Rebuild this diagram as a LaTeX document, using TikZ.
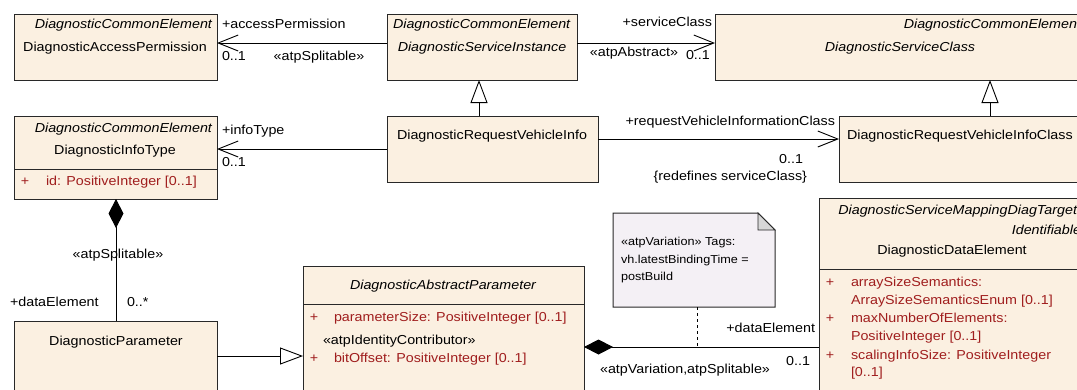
\documentclass[tikz,border=0pt]{standalone}
\usepackage{fontspec}
\setmainfont[FakeStretch=1.1]{Liberation Sans}
\usetikzlibrary{arrows.meta}
\definecolor{boxfill}{RGB}{251,240,225}
\definecolor{notefill}{RGB}{244,240,245}
\definecolor{foldfill}{RGB}{215,215,215}
\definecolor{attrred}{RGB}{160,30,30}
\definecolor{edgecol}{RGB}{40,40,40}
\tikzset{
  umlbox/.style={rectangle, draw=edgecol, fill=boxfill, line width=1pt, inner sep=0pt, outer sep=0pt, anchor=north west},
  lbl/.style={inner sep=0pt, outer sep=0pt, text=black},
  attr/.style={lbl, text=attrred},
  sepline/.style={draw=edgecol, line width=1pt},
  assoc/.style={draw=black, line width=0.9pt, -{Straight Barb[length=20pt,width=16pt]}},
  gen/.style={draw=black, line width=0.9pt, -{Triangle[length=23pt,width=17pt,fill=white]}},
  comp/.style={draw=black, line width=0.9pt, {Diamond[length=29pt,width=15pt]}-},
  notelink/.style={draw=black, line width=0.9pt, dash pattern=on 3pt off 3pt},
}
\begin{document}
\begin{tikzpicture}[x=1pt, y=-1pt, font=\fontsize{13}{15}\selectfont]
\useasboundingbox (0,0) rectangle (1077,389);
\clip (0,0) rectangle (1077,389);
\fill[white] (0,0) rectangle (1077,389);

% ---------- boxes ----------
\node[umlbox, minimum width=203pt, minimum height=66pt] (A) at (14,14) {};
\node[umlbox, minimum width=190pt, minimum height=66pt] (B) at (387,14) {};
\node[umlbox, minimum width=370pt, minimum height=66pt] (C) at (715,14) {};
\node[umlbox, minimum width=203pt, minimum height=83pt] (D) at (14,116) {};
\node[umlbox, minimum width=211pt, minimum height=66pt] (E) at (387,116) {};
\node[umlbox, minimum width=246pt, minimum height=66pt] (F) at (839,116) {};
\node[umlbox, minimum width=203pt, minimum height=100pt] (G) at (14,321) {};
\node[umlbox, minimum width=281pt, minimum height=150pt] (H) at (303,266) {};
\node[umlbox, minimum width=266pt, minimum height=220pt] (I) at (819,198) {};

% separators
\coordinate (sD) at (0,169);
\coordinate (sH) at (0,304);
\coordinate (sI) at (0,269);
\draw[sepline] (D.west |- sD) -- (D.east |- sD);
\draw[sepline] (H.west |- sH) -- (H.east |- sH);
\draw[sepline] (I.west |- sI) -- (I.east |- sI);

% ---------- note ----------
\filldraw[fill=notefill, draw=edgecol, line width=1pt]
  (613,213) -- (758,213) -- (775,230) -- (775,307) -- (613,307) -- cycle;
\filldraw[fill=foldfill, draw=edgecol, line width=0.8pt]
  (758,213) -- (758,230) -- (775,230) -- cycle;
\node[lbl, anchor=mid west, font=\fontsize{11.5}{12}\selectfont] (n1) at (621,243) {«atpVariation» Tags:};
\node[lbl, anchor=mid west, font=\fontsize{11.5}{12}\selectfont] (n2) at (621,261) {vh.latestBindingTime =};
\node[lbl, anchor=mid west, font=\fontsize{11.5}{12}\selectfont] (n3) at (621,278) {postBuild};

% ---------- box texts ----------
\node[lbl, anchor=mid east] (a1) at (212,26) {\itshape DiagnosticCommonElement};
\node[lbl, anchor=mid] (a2) at (115,49) {DiagnosticAccessPermission};

\node[lbl, anchor=mid west] (b1) at (393,26) {\itshape DiagnosticCommonElement};
\node[lbl, anchor=mid] (b2) at (482,49) {\itshape DiagnosticServiceInstance};

\node[lbl, anchor=mid east] (c1) at (1081,26) {\itshape DiagnosticCommonElement};
\node[lbl, anchor=mid] (c2) at (900,49) {\itshape DiagnosticServiceClass};

\node[lbl, anchor=mid east] (d1) at (212,130) {\itshape DiagnosticCommonElement};
\node[lbl, anchor=mid] (d2) at (115,152) {DiagnosticInfoType};
\node[attr, anchor=mid] (d3) at (25,183) {+};
\node[attr, anchor=mid west] (d4) at (46,183) {id: PositiveInteger [0..1]};

\node[lbl, anchor=mid] (e1) at (492,137) {DiagnosticRequestVehicleInfo};
\node[lbl, anchor=mid west] (f1) at (847,137) {DiagnosticRequestVehicleInfoClass};

\node[lbl, anchor=mid] (g1) at (116,343) {DiagnosticParameter};

\node[lbl, anchor=mid] (h1) at (443,287) {\itshape DiagnosticAbstractParameter};
\node[attr, anchor=mid] (h2) at (314,319) {+};
\node[attr, anchor=mid west] (h3) at (334,319) {parameterSize: PositiveInteger [0..1]};
\node[lbl, anchor=mid west] (h4) at (323,342) {«atpIdentityContributor»};
\node[attr, anchor=mid] (h5) at (314,360) {+};
\node[attr, anchor=mid west] (h6) at (334,360) {bitOffset: PositiveInteger [0..1]};

\node[lbl, anchor=mid east] (i1) at (1081,212) {\itshape DiagnosticServiceMappingDiagTarget,};
\node[lbl, anchor=mid east] (i2) at (1081,232) {\itshape Identifiable};
\node[lbl, anchor=mid] (i3) at (952,252) {DiagnosticDataElement};
\node[attr, anchor=mid] (i4) at (830,284) {+};
\node[attr, anchor=mid west] (i5) at (851,284) {arraySizeSemantics:};
\node[attr, anchor=mid west] (i6) at (851,302) {ArraySizeSemanticsEnum [0..1]};
\node[attr, anchor=mid] (i7) at (830,320) {+};
\node[attr, anchor=mid west] (i8) at (851,320) {maxNumberOfElements:};
\node[attr, anchor=mid west] (i9) at (851,338) {PositiveInteger [0..1]};
\node[attr, anchor=mid] (i10) at (830,357) {+};
\node[attr, anchor=mid west] (i11) at (851,357) {scalingInfoSize: PositiveInteger};
\node[attr, anchor=mid west] (i12) at (851,374) {[0..1]};

% ---------- connectors ----------
\coordinate (yAB) at (0,43);
\draw[assoc] (B.west |- yAB) -- (A.east |- yAB);
\draw[assoc] (B.east |- yAB) -- (C.west |- yAB);
\coordinate (xg1) at (479,0);
\draw[gen] (E.north -| xg1) -- (B.south -| xg1);
\coordinate (xg2) at (990,0);
\draw[gen] (F.north -| xg2) -- (C.south -| xg2);
\coordinate (yEF) at (0,139);
\draw[assoc] (E.east |- yEF) -- (F.west |- yEF);
\draw[assoc] (E.west) -- (D.east |- E.west);
\coordinate (xDG) at (116,0);
\draw[comp] (D.south -| xDG) -- (G.north -| xDG);
\coordinate (yGH) at (0,356);
\draw[gen] (G.east |- yGH) -- (H.west |- yGH);
\coordinate (yHI) at (0,347);
\draw[comp] (H.east |- yHI) -- (I.west |- yHI);
\coordinate (noteB) at (697,307);
\coordinate (noteT) at (697,347);
\draw[notelink] (noteB) -- (noteT);

% ---------- connector labels ----------
\node[lbl, anchor=mid west] (l1) at (222,26) {+accessPermission};
\node[lbl, anchor=mid west] (l2) at (222,58) {0..1};
\node[lbl, anchor=mid] (l3) at (319,58) {«atpSplitable»};
\node[lbl, anchor=mid east] (l4) at (712,24) {+serviceClass};
\node[lbl, anchor=mid] (l5) at (634,54) {«atpAbstract»};
\node[lbl, anchor=mid west] (l6) at (686,57) {0..1};
\node[lbl, anchor=mid west] (l7) at (222,132) {+infoType};
\node[lbl, anchor=mid west] (l8) at (222,164) {0..1};
\node[lbl, anchor=mid east] (l9) at (835,123) {+requestVehicleInformationClass};
\node[lbl, anchor=mid east] (l10) at (803,161) {0..1};
\node[lbl, anchor=mid east] (l11) at (807,178) {\{redefines serviceClass\}};
\node[lbl, anchor=mid] (l12) at (118,256) {«atpSplitable»};
\node[lbl, anchor=mid west] (l13) at (10,304) {+dataElement};
\node[lbl, anchor=mid west] (l14) at (127,304) {0..*};
\node[lbl, anchor=mid east] (l15) at (815,330) {+dataElement};
\node[lbl, anchor=mid] (l16) at (685,371) {«atpVariation,atpSplitable»};
\node[lbl, anchor=mid east] (l17) at (810,363) {0..1};
\end{tikzpicture}
\end{document}
